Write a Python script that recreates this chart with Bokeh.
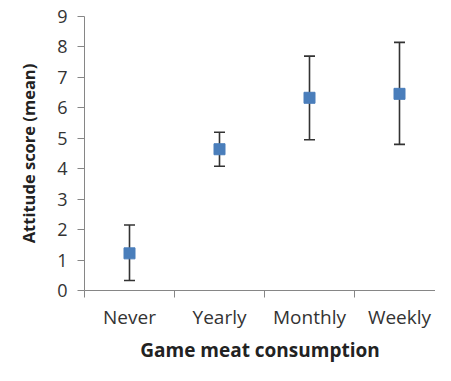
from bokeh.plotting import figure
from bokeh.models import (ColumnDataSource, Range1d, FixedTicker, Whisker, TeeHead, Title)
from bokeh.embed import file_html
from bokeh.resources import INLINE

categories = ["Never", "Yearly", "Monthly", "Weekly"]
means = [1.22, 4.64, 6.33, 6.46]
upper = [2.15, 5.20, 7.70, 8.15]
lower = [0.33, 4.08, 4.95, 4.80]
y_ticks = [0, 1, 2, 3, 4, 5, 6, 7, 8, 9]

xpos = [i + 0.5 for i in range(len(categories))]
src = ColumnDataSource(dict(x=xpos, mean=means, upper=upper, lower=lower))

FONT = "Open Sans"
p = figure(width=435, height=365, output_backend="svg", toolbar_location=None,
           x_range=Range1d(0, 3.9), y_range=Range1d(0, 9),
           min_border_left=80, min_border_right=0, min_border_top=16, min_border_bottom=60)
p.outline_line_color = None
p.xgrid.grid_line_color = None
p.ygrid.grid_line_color = None
p.background_fill_color = "white"

whisk = Whisker(source=src, base="x", upper="upper", lower="lower",
                line_color="#333333", line_width=1.6,
                upper_head=TeeHead(size=11, line_color="#333333", line_width=1.6),
                lower_head=TeeHead(size=11, line_color="#333333", line_width=1.6))
p.add_layout(whisk)
p.scatter("x", "mean", source=src, marker="square", size=11,
          fill_color="#4a7ebb", line_color="#4a7ebb")

# y axis
ya = p.yaxis[0]
ya.ticker = FixedTicker(ticks=y_ticks, minor_ticks=[])
ya.axis_line_color = "#868686"
ya.major_tick_line_color = "#868686"
ya.major_tick_out = 7
ya.major_tick_in = 0
ya.minor_tick_line_color = None
ya.major_label_standoff = 10
ya.major_label_text_font = FONT
ya.major_label_text_font_size = "18px"
ya.major_label_text_color = "#333333"

# x axis
xa = p.xaxis[0]
xa.ticker = FixedTicker(ticks=xpos, minor_ticks=list(range(len(categories) + 1)))
xa.major_label_overrides = {x: c for x, c in zip(xpos, categories)}
xa.axis_line_color = "#868686"
xa.major_tick_line_color = None
xa.major_tick_out = 7
xa.major_tick_in = 0
xa.minor_tick_line_color = "#868686"
xa.minor_tick_out = 7
xa.minor_tick_in = 0
xa.major_label_standoff = 6
xa.major_label_text_font = FONT
xa.major_label_text_font_size = "19px"
xa.major_label_text_color = "#333333"
xa.axis_label = "Game meat consumption"
xa.axis_label_text_font = FONT
xa.axis_label_text_font_size = "19px"
xa.axis_label_text_font_style = "bold"
xa.axis_label_text_color = "#222222"
xa.axis_label_standoff = 4

p.add_layout(Title(text="Attitude score (mean)", align="center", offset=62,
                   text_font=FONT, text_font_size="16.5px", text_font_style="bold",
                   text_color="#222222", standoff=29), "left")

open("out.html", "w").write(file_html(p, INLINE))
